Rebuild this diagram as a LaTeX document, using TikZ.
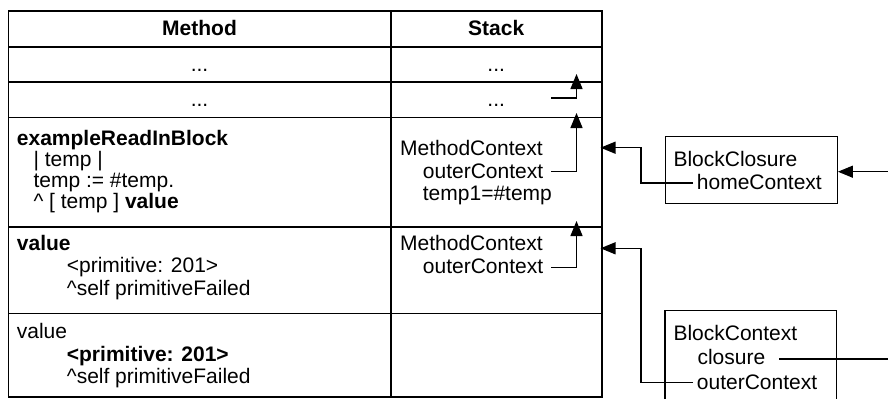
\documentclass[tikz,border=0pt]{standalone}
\usepackage{fontspec}
\setmainfont{Liberation Sans}
\usetikzlibrary{arrows.meta}
\begin{document}
\begin{tikzpicture}[x=1pt,y=-1pt,
  txt/.style={inner sep=0pt, anchor=base west, font=\fontsize{21}{25}\selectfont},
  ctr/.style={inner sep=0pt, anchor=base, font=\fontsize{21}{25}\selectfont},
  hdr/.style={inner sep=0pt, anchor=base, font=\fontsize{21}{25}\selectfont\bfseries},
  grid/.style={line width=1.6pt},
  obj/.style={line width=1.2pt},
  ptr/.style={line width=1.3pt, -{Triangle[length=15pt,width=12pt]}},
  link/.style={line width=1.3pt}]
\useasboundingbox (0,0) rectangle (888,399);
% table
\draw[grid] (8.3,11) rectangle (601.7,397);
\draw[grid] (390.7,11) -- (390.7,397);
\foreach \yy in {46.7,81.7,117.3,227,313.3}
  \draw[grid] (8.3,\yy) -- (601.7,\yy);
% headers
\node[hdr] (hm) at (199.5,35) {Method};
\node[hdr] (hs) at (496.2,35) {Stack};
\node[ctr] (m1) at (199.5,71.5) {...};
\node[ctr] (s1) at (496.2,71.5) {...};
\node[ctr] (m2) at (199.5,106.5) {...};
\node[ctr] (s2) at (496.2,106.5) {...};
% row 3
\node[txt] (m3a) at (16.7,145.5) {\textbf{exampleReadInBlock}};
\node[txt] (m3b) at (33.3,166) {| temp |};
\node[txt] (m3c) at (33.3,187.5) {temp := \#temp.};
\node[txt] (m3d) at (33.3,208.5) {\textasciicircum{} [ temp ] \textbf{value}};
\node[txt] (s3a) at (400,155) {MethodContext};
\node[txt] (s3b) at (422.7,178) {outerContext};
\node[txt] (s3c) at (422.7,200.5) {temp1=\#temp};
% row 4
\node[txt] (m4a) at (16.7,250.5) {\textbf{value}};
\node[txt] (m4b) at (66.7,272.5) {<primitive: 201>};
\node[txt] (m4c) at (66.7,295) {\textasciicircum self primitiveFailed};
\node[txt] (s4a) at (400,250.5) {MethodContext};
\node[txt] (s4b) at (422.7,273.5) {outerContext};
% row 5
\node[txt] (m5a) at (16.7,338) {value};
\node[txt] (m5b) at (66.7,361) {\textbf{<primitive: 201>}};
\node[txt] (m5c) at (66.7,383.5) {\textasciicircum self primitiveFailed};
% objects
\node[draw, obj, inner sep=0pt, minimum width=171.7pt, minimum height=66.7pt, anchor=north west] (bclo) at (665,136) {};
\node[txt] (bc1) at (673.3,166.5) {BlockClosure};
\node[txt] (bc2) at (696.7,189) {homeContext};
\draw[obj] (665,399) -- (665,310.7) -- (836.7,310.7) -- (836.7,399);
\node[txt] (bx1) at (673.3,340) {BlockContext};
\node[txt] (bx2) at (697.3,364) {closure};
\node[txt] (bx3) at (696.7,389.3) {outerContext};
% connector coordinates
\coordinate (r2s) at (551,98);
\coordinate (r1t) at (576.5,74);
\coordinate (r3s) at (551,171.5);
\coordinate (r2t) at (576.5,113);
\coordinate (r4s) at (551,267.5);
\coordinate (r3t) at (576.5,221);
\coordinate (hcs) at (693,183);
\coordinate (hcb) at (641,147.7);
\coordinate (hct) at (600.5,147.7);
\coordinate (ocs) at (693,382.7);
\coordinate (ocb) at (641,248.3);
\coordinate (oct) at (600.5,248.3);
\coordinate (cls) at (779,359);
\coordinate (cle) at (888,359);
\coordinate (ein) at (888,171.7);
% connectors
\draw[ptr] (r2s) -| (r1t);
\draw[ptr] (r3s) -| (r2t);
\draw[ptr] (r4s) -| (r3t);
\draw[ptr] (hcs) -| (hcb) -- (hct);
\draw[ptr] (ocs) -| (ocb) -- (oct);
\draw[link] (cls) -- (cle);
\draw[ptr] (ein) -- (ein -| bclo.east);
\end{tikzpicture}
\end{document}
